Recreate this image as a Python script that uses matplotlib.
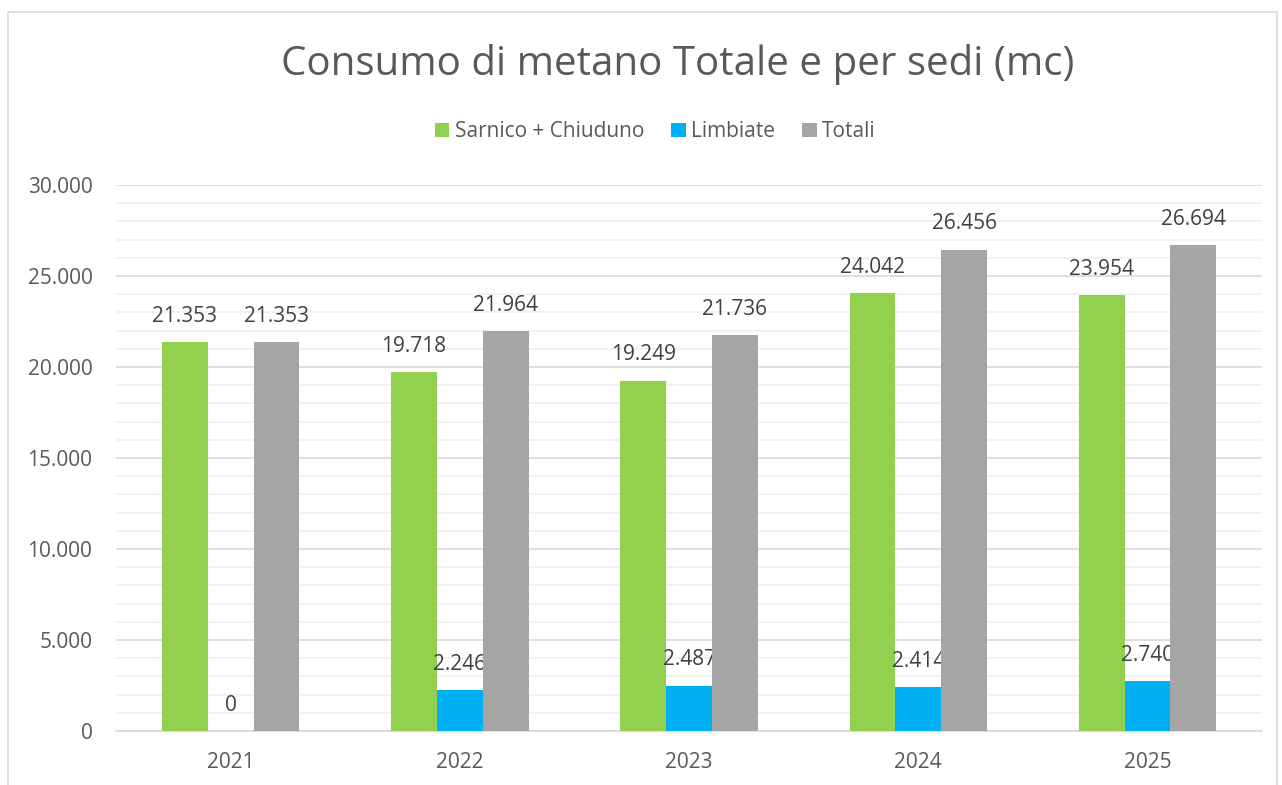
import numpy as np
import matplotlib.pyplot as plt
from matplotlib.patches import Rectangle
from matplotlib.ticker import FuncFormatter, MultipleLocator

anni = ['2021', '2022', '2023', '2024', '2025']
sarnico = [21353, 19718, 19249, 24042, 23954]
limbiate = [0, 2246, 2487, 2414, 2740]
totali = [21353, 21964, 21736, 26456, 26694]

serie = [('Sarnico + Chiuduno', sarnico, '#92d050'),
         ('Limbiate', limbiate, '#00b0f0'),
         ('Totali', totali, '#a5a5a5')]

plt.rcParams['font.family'] = ['Open Sans', 'DejaVu Sans']

fig = plt.figure(figsize=(12.82, 7.85), dpi=100)
ax = fig.add_axes([0.0905, 0.0688, 0.894, 0.6955])

fig.patches.append(Rectangle((0.006, -0.01), 0.99, 0.995, transform=fig.transFigure,
                             fill=False, edgecolor='#d9d9d9', linewidth=1.2))

def fmt(v, pos=None):
    return f'{int(v):,}'.replace(',', '.')

x = np.arange(len(anni))
w = 0.2
for i, (nome, vals, col) in enumerate(serie):
    pos = x + (i - 1) * w
    ax.bar(pos, vals, w, color=col, label=nome, zorder=3)
    for px, v in zip(pos, vals):
        ax.annotate(fmt(v), (px, v), xytext=(0, 11), textcoords='offset points',
                    ha='center', va='bottom', fontsize=15, color='#404040')

ax.set_xlim(-0.5, 4.5)
ax.set_ylim(0, 30000)
ax.yaxis.set_major_locator(MultipleLocator(5000))
ax.yaxis.set_minor_locator(MultipleLocator(1000))
ax.yaxis.set_major_formatter(FuncFormatter(fmt))
ax.set_xticks(x)
ax.set_xticklabels(anni)
ax.grid(axis='y', which='major', color='#d9d9d9', linewidth=1.2, zorder=0)
ax.grid(axis='y', which='minor', color='#f0f0f0', linewidth=1.2, zorder=0)
for s in ['top', 'right', 'left']:
    ax.spines[s].set_visible(False)
ax.spines['bottom'].set_color('#d9d9d9')
ax.spines['bottom'].set_linewidth(1.2)
ax.tick_params(axis='both', which='both', length=0, labelsize=15, colors='#595959')
ax.tick_params(axis='x', pad=15)
ax.tick_params(axis='y', pad=17)

fig.text(0.529, 0.918, 'Consumo di metano Totale e per sedi (mc)', ha='center', va='center',
         fontsize=29, color='#595959')
fig.legend(loc='center', bbox_to_anchor=(0.511, 0.832), ncol=3, frameon=False,
           fontsize=15, labelcolor='#595959', handlelength=0.7, handleheight=0.7,
           handletextpad=0.25, columnspacing=1.3)

fig.savefig('out.png', dpi=100)
